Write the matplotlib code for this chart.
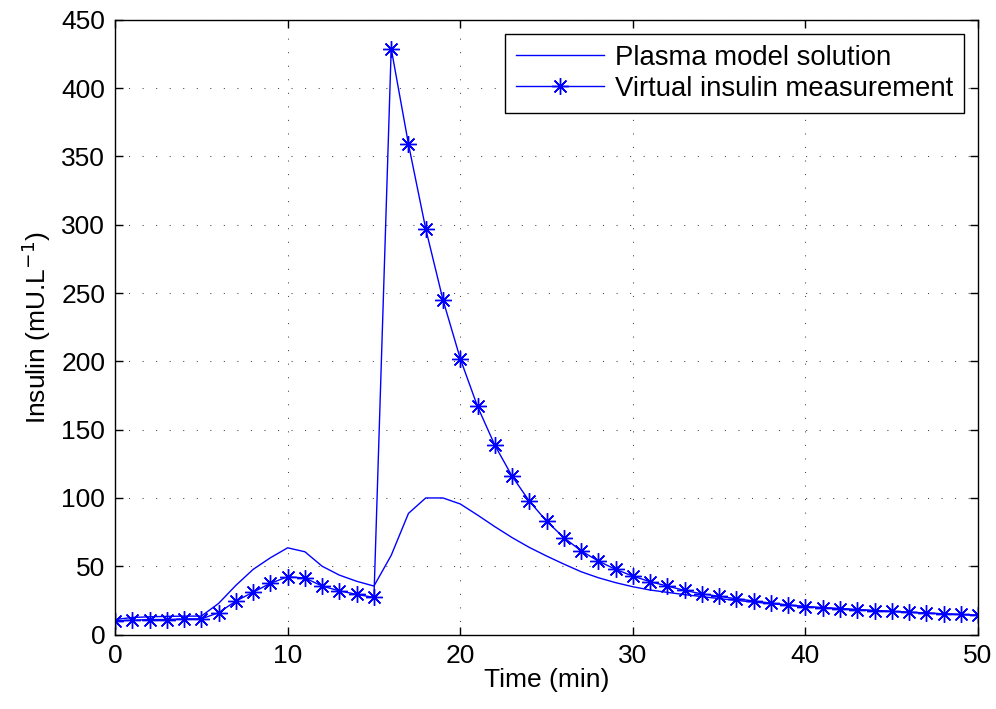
import matplotlib
matplotlib.use("Agg")
import matplotlib.pyplot as plt

t = list(range(51))
# plasma model solution (mU/L)
model = [11, 12.5, 13, 13.3, 13.5, 13.5, 22.8, 36, 47.7, 56.2,
         63.5, 60.6, 50, 43.5, 39, 35.5, 58, 88.7, 100, 100,
         95.6, 87.5, 79, 71, 63.8, 57.5, 51.6, 46, 41.6, 38,
         35, 32.6, 30.9, 29.2, 27.8, 26.3, 25, 23.8, 22.6, 21.5,
         20.4, 19.6, 18.9, 18.2, 17.5, 16.9, 16.3, 15.7, 15.1, 14.6, 14.1]
# virtual measurements (stars)
meas = [10, 10.5, 11, 11, 11.5, 11.5, 16, 24.5, 31, 37.5,
        42.3, 41.4, 35.5, 32, 29.4, 27.2, 429, 359, 297, 245,
        202, 167, 138.7, 116, 97.7, 83, 71, 61.3, 53.8, 47.7,
        42.8, 38.7, 35.5, 32.3, 29.8, 28, 26.2, 24.6, 23, 21.7,
        20.5, 19.7, 19, 18.3, 17.6, 17, 16.4, 15.8, 15.2, 14.7, 14.2]

FS = 19
plt.rcParams.update({"font.family": ["Liberation Sans", "DejaVu Sans"], "font.size": FS})
fig = plt.figure(figsize=(9.96, 7.09), dpi=100)
ax = fig.add_axes([0.1155, 0.105, 0.8665, 0.867])

ax.plot(t, model, "-", color="#0000ff", lw=1.0, label="Plasma model solution")
ax.plot(t, meas, "-", color="#0000ff", lw=1.0, marker=(8, 2, 0), ms=12, mew=1.0,
        label="Virtual insulin measurement")

ax.set_xlim(0, 50); ax.set_ylim(0, 450)
ax.set_xticks(range(0, 51, 10)); ax.set_yticks(range(0, 451, 50))
ax.grid(True, color="#444444", lw=0.75, linestyle=(0, (1, 12)))
ax.tick_params(direction="in", top=True, right=True, length=6, width=1,
               labelsize=FS, pad=7)
for s in ax.spines.values(): s.set_linewidth(1.0)
ax.set_xlabel("Time (min)", fontsize=FS, labelpad=0)
ax.set_ylabel("Insulin (mU.L$^{-1}$)", fontsize=FS, labelpad=6)

leg = ax.legend(loc="upper right", fontsize=19.8, fancybox=False, framealpha=1,
                edgecolor="black", handlelength=3.2, handletextpad=0.4,
                borderaxespad=0.5, borderpad=0.4, labelspacing=0.2)
leg.get_frame().set_linewidth(1.0)

fig.savefig("out.png", dpi=100)
